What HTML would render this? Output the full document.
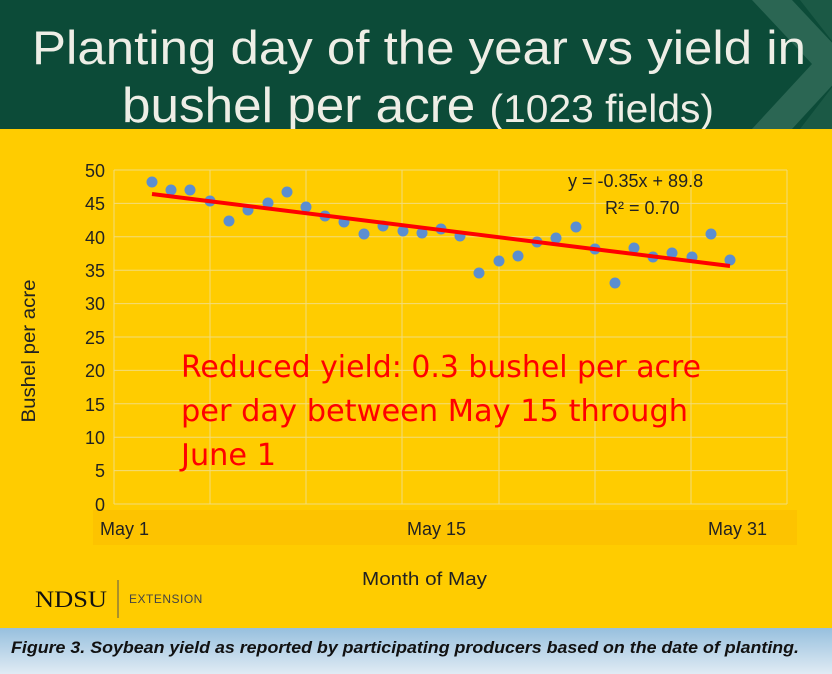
<!DOCTYPE html>
<html><head><style>
body{margin:0;width:832px;height:674px;overflow:hidden;background:#ffcc00;font-family:"Liberation Sans",sans-serif;}
</style></head><body>
<svg width="832" height="674" xmlns="http://www.w3.org/2000/svg" style="position:absolute;left:0;top:0">
<defs><linearGradient id="cg" x1="0" y1="0" x2="0" y2="1"><stop offset="0" stop-color="#97c0de"/><stop offset="1" stop-color="#e0ebf4"/></linearGradient></defs>
<rect x="0" y="0" width="832" height="129" fill="#0c4b38"/>
<polygon points="752,0 792,0 852,64 792,129 752,129 812,64" fill="#2b6653"/>
<polygon points="800,0 832,0 832,129 800,129 850,64" fill="#1f5c48" opacity="0.8"/>
<text x="32" y="64" font-size="47" fill="#eeeee6" textLength="774" lengthAdjust="spacingAndGlyphs">Planting day of the year vs yield in</text>
<text x="122" y="122" font-size="49" fill="#eeeee6" textLength="592" lengthAdjust="spacingAndGlyphs">bushel per acre <tspan font-size="39">(1023 fields)</tspan></text>
<rect x="0" y="129" width="832" height="499" fill="#ffcc00"/>
<rect x="93" y="510" width="704" height="35" fill="#fdc300"/>
<g stroke="#f2dc7c" stroke-width="1">
<line x1="114" y1="170" x2="787" y2="170"/><line x1="114" y1="203.4" x2="787" y2="203.4"/><line x1="114" y1="236.8" x2="787" y2="236.8"/><line x1="114" y1="270.2" x2="787" y2="270.2"/><line x1="114" y1="303.6" x2="787" y2="303.6"/><line x1="114" y1="337" x2="787" y2="337"/><line x1="114" y1="370.4" x2="787" y2="370.4"/><line x1="114" y1="403.8" x2="787" y2="403.8"/><line x1="114" y1="437.2" x2="787" y2="437.2"/><line x1="114" y1="470.6" x2="787" y2="470.6"/><line x1="114" y1="504" x2="787" y2="504"/>
<line x1="114" y1="170" x2="114" y2="504"/><line x1="210" y1="170" x2="210" y2="504"/><line x1="306" y1="170" x2="306" y2="504"/><line x1="402" y1="170" x2="402" y2="504"/><line x1="499" y1="170" x2="499" y2="504"/><line x1="595" y1="170" x2="595" y2="504"/><line x1="691" y1="170" x2="691" y2="504"/><line x1="787" y1="170" x2="787" y2="504"/>
</g>
<g font-size="18" fill="#222" text-anchor="end">
<text x="105" y="177">50</text><text x="105" y="210">45</text><text x="105" y="244">40</text><text x="105" y="277">35</text><text x="105" y="310">30</text><text x="105" y="344">25</text><text x="105" y="377">20</text><text x="105" y="411">15</text><text x="105" y="444">10</text><text x="105" y="477">5</text><text x="105" y="511">0</text>
</g>
<text transform="translate(35,351) rotate(-90)" font-size="19" fill="#222" text-anchor="middle" textLength="143" lengthAdjust="spacingAndGlyphs">Bushel per acre</text>
<g font-size="18" fill="#222">
<text x="100" y="535">May  1</text><text x="407" y="535">May  15</text><text x="708" y="535">May  31</text>
</g>
<text x="362" y="585" font-size="18" fill="#222" textLength="125" lengthAdjust="spacingAndGlyphs">Month of May</text>
<g fill="#5b8ed0">
<circle cx="152" cy="182" r="5.5"/><circle cx="171" cy="190" r="5.5"/><circle cx="190" cy="190" r="5.5"/><circle cx="210" cy="201" r="5.5"/><circle cx="229" cy="221" r="5.5"/><circle cx="248" cy="210" r="5.5"/><circle cx="268" cy="203" r="5.5"/><circle cx="287" cy="192" r="5.5"/><circle cx="306" cy="207" r="5.5"/><circle cx="325" cy="216" r="5.5"/><circle cx="344" cy="222" r="5.5"/><circle cx="364" cy="234" r="5.5"/><circle cx="383" cy="226" r="5.5"/><circle cx="403" cy="231" r="5.5"/><circle cx="422" cy="233" r="5.5"/><circle cx="441" cy="229" r="5.5"/><circle cx="460" cy="236" r="5.5"/><circle cx="479" cy="273" r="5.5"/><circle cx="499" cy="261" r="5.5"/><circle cx="518" cy="256" r="5.5"/><circle cx="537" cy="242" r="5.5"/><circle cx="556" cy="238" r="5.5"/><circle cx="576" cy="227" r="5.5"/><circle cx="595" cy="249" r="5.5"/><circle cx="615" cy="283" r="5.5"/><circle cx="634" cy="248" r="5.5"/><circle cx="653" cy="257" r="5.5"/><circle cx="672" cy="253" r="5.5"/><circle cx="692" cy="257" r="5.5"/><circle cx="711" cy="234" r="5.5"/><circle cx="730" cy="260" r="5.5"/>
</g>
<line x1="152" y1="194" x2="730" y2="266" stroke="#ff0000" stroke-width="4"/>
<g font-size="18" fill="#222"><text x="568" y="187">y = -0.35x + 89.8</text><text x="605" y="214">R² = 0.70</text></g>
<g font-size="30" fill="#ff0000" font-family="'DejaVu Sans','Liberation Sans',sans-serif">
<text x="181" y="377" textLength="520" lengthAdjust="spacingAndGlyphs">Reduced yield: 0.3 bushel per acre</text>
<text x="181" y="421" textLength="507" lengthAdjust="spacingAndGlyphs">per day between May 15 through</text>
<text x="181" y="465" textLength="95" lengthAdjust="spacingAndGlyphs">June 1</text>
</g>
<text x="35" y="607" font-family="'Liberation Serif',serif" font-size="23" fill="#111" textLength="72" lengthAdjust="spacingAndGlyphs">NDSU</text>
<line x1="118" y1="580" x2="118" y2="618" stroke="#555" stroke-width="1"/>
<text x="129" y="603" font-size="12" fill="#444" letter-spacing="0.5">EXTENSION</text>
<rect x="0" y="628" width="832" height="46" fill="url(#cg)"/>
<text x="11" y="653" font-size="16.5" font-weight="bold" font-style="italic" fill="#111" textLength="788" lengthAdjust="spacingAndGlyphs">Figure 3. Soybean yield as reported by participating producers based on the date of planting.</text>
</svg>
</body></html>
